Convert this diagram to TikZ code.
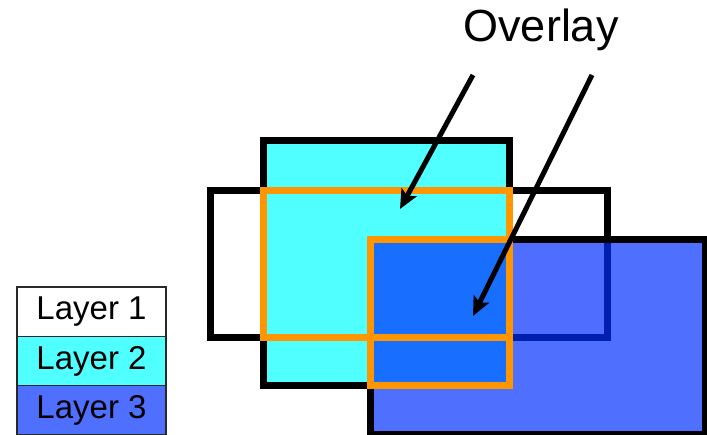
\documentclass[tikz,border=0pt]{standalone}
\usepackage{fontspec}
\setmainfont{Liberation Sans}
\usetikzlibrary{arrows.meta}
\definecolor{cyanfill}{RGB}{80,255,255}
\definecolor{bluefill}{RGB}{0,46,255}
\definecolor{legblue}{RGB}{79,111,255}
\definecolor{ovorange}{RGB}{255,150,0}
\definecolor{legline}{RGB}{40,40,40}
\tikzset{
  layerbox/.style={line width=7pt, draw=black, line join=miter},
  ovbox/.style={line width=7pt, draw=ovorange, line join=miter},
  pointer/.style={line width=5pt, draw=black, -{Stealth[length=19pt,width=17pt,inset=4pt]}},
  legbox/.style={draw=legline, line width=1.5pt, minimum width=149pt, minimum height=49.33pt,
    inner sep=0pt, font=\fontsize{33}{36}\selectfont},
}
\begin{document}
\begin{tikzpicture}[x=1pt,y=-1pt]
\useasboundingbox (0,0) rectangle (707,435);
% Layer 1
\path[layerbox, fill=white] (210.5,191) rectangle (607.5,337.5);
% Layer 2
\path[layerbox, fill=cyanfill] (263.5,140.5) rectangle (509.5,385.5);
% Layer 3 (semi-transparent fill)
\fill[bluefill, fill opacity=0.69] (370.5,239.5) rectangle (705.5,434.5);
\draw[layerbox] (370.5,239.5) rectangle (705.5,434.5);
% Overlays
\draw[ovbox] (263.5,191) rectangle (509.5,337.5);
\draw[ovbox] (370.5,239.5) rectangle (509.5,385.5);
% Label and arrows
\node[anchor=base, inner sep=0pt, font=\fontsize{45}{50}\selectfont] (ov) at (541,42) {Overlay};
\coordinate (a1s) at (473,75);
\coordinate (a1e) at (400,209);
\coordinate (a2s) at (592,75);
\coordinate (a2e) at (473,316);
\draw[pointer] (a1s) -- (a1e);
\draw[pointer] (a2s) -- (a2e);
% Legend
\node[legbox, fill=white] (l1) at (91.5,311.67) {Layer 1};
\node[legbox, fill=cyanfill] (l2) at (91.5,361) {Layer 2};
\node[legbox, fill=legblue] (l3) at (91.5,410.33) {Layer 3};
\end{tikzpicture}
\end{document}
